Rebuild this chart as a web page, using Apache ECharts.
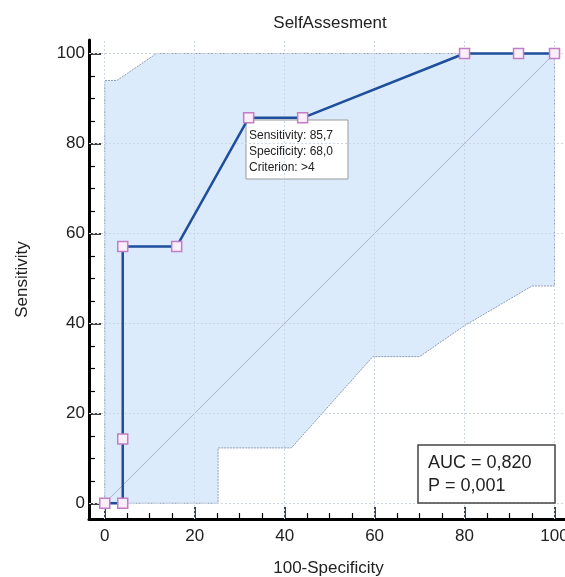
<!DOCTYPE html>
<html>
<head>
<meta charset="utf-8">
<script src="https://cdn.jsdelivr.net/npm/echarts@6/dist/echarts.min.js"></script>
<style>
html,body{margin:0;padding:0;background:#fff}
#roc{width:565px;height:577px}
</style>
</head>
<body>
<div id="roc"></div>
<script>
// ROC curve points (100-Specificity, Sensitivity)
var rocX = [0, 4, 4, 4, 16, 32, 44, 80, 92, 100];
var rocY = [0, 0, 14.3, 57.1, 57.1, 85.7, 85.7, 100, 100, 100];
// confidence band outline, upper edge then lower edge back to start
var bandX = [0, 0, 2.7, 11.5, 100, 100, 95, 80, 70, 59.6, 41.5, 25.2, 25.2];
var bandY = [0, 94, 94, 100, 100, 48.3, 48.3, 39.5, 32.6, 32.6, 12.3, 12.3, 0];
// reference diagonal
var diagX = [0, 100];
var diagY = [0, 100];
var majorTicks = [0, 20, 40, 60, 80, 100];
var minorTicks = [5, 10, 15, 25, 30, 35, 45, 50, 55, 65, 70, 75, 85, 90, 95];

var FONT = "'Liberation Sans', Arial, sans-serif";
var myChart = echarts.init(document.getElementById('roc'));

function mainAxis(name, gap, margin){
	return {
		type: 'value',
		min: -3.5,
		max: 103,
		name: name,
		nameLocation: 'middle',
		nameGap: gap,
		nameTextStyle: {fontFamily: FONT, fontSize: 17, color: '#222'},
		axisLine: {show: true, onZero: false, lineStyle: {color: '#000', width: 3}},
		axisTick: {show: true, inside: true, length: 12, customValues: majorTicks,
			lineStyle: {color: '#000', width: 1.5}},
		axisLabel: {customValues: majorTicks, margin: margin, fontFamily: FONT, fontSize: 17, color: '#222'},
		splitLine: {show: false}
	};
}
function minorAxis(){
	return {
		type: 'value',
		min: -3.5,
		max: 103,
		axisLine: {show: false, onZero: false},
		axisTick: {show: true, inside: true, length: 6, customValues: minorTicks,
			lineStyle: {color: '#000', width: 1.2}},
		axisLabel: {show: false},
		splitLine: {show: false}
	};
}

var xMain = mainAxis('100-Specificity', 41, 9); xMain.position = 'bottom';
var xMinor = minorAxis(); xMinor.position = 'bottom';
var yMain = mainAxis('Sensitivity', 58, 4); yMain.position = 'left';
var yMinor = minorAxis(); yMinor.position = 'left';

var gridLines = majorTicks.map(function(v){ return {xAxis: v}; })
	.concat(majorTicks.map(function(v){ return {yAxis: v}; }));

var option = {
	animation: false,
	grid: {left: 89, right: -3, top: 40, bottom: 58, containLabel: false, outerBoundsMode: 'none'},
	xAxis: [xMain, xMinor],
	yAxis: [yMain, yMinor],
	series: [
		{
			type: 'custom',
			z: 1,
			silent: true,
			data: [[0, 0]],
			renderItem: function(params, api){
				var pts = bandX.map(function(x, i){ return api.coord([x, bandY[i]]); });
				return {
					type: 'polygon',
					shape: {points: pts},
					style: {fill: '#dcebfb', stroke: '#8c9db6', lineWidth: 1, lineDash: [2, 1]}
				};
			}
		},
		{
			type: 'line',
			z: 2,
			silent: true,
			symbol: 'none',
			data: diagX.map(function(x, i){ return [x, diagY[i]]; }),
			lineStyle: {color: '#aab7cc', width: 1},
			markLine: {
				silent: true,
				symbol: 'none',
				label: {show: false},
				lineStyle: {color: '#cdd6e3', type: [2, 2], width: 1},
				data: gridLines
			}
		},
		{
			type: 'line',
			z: 5,
			symbol: 'rect',
			symbolSize: 10,
			showAllSymbol: true,
			data: rocX.map(function(x, i){ return [x, rocY[i]]; }),
			lineStyle: {color: '#1e4f9c', width: 2.5},
			itemStyle: {color: '#f9eef9', borderColor: '#c27ec4', borderWidth: 1.5}
		}
	],
	graphic: [
		{
			type: 'text', z: 100, x: 330, y: 23,
			style: {text: 'SelfAssesment', fontFamily: FONT, fontSize: 17, fill: '#222',
				textAlign: 'center', textVerticalAlign: 'middle'}
		},
		{
			type: 'rect', z: 3, shape: {x: 246, y: 120, width: 102, height: 59},
			style: {fill: '#fff', stroke: '#9a9a9a', lineWidth: 1}
		},
		{
			type: 'text', z: 4, x: 249, y: 128,
			style: {text: 'Sensitivity: 85,7\nSpecificity: 68,0\nCriterion: >4',
				fontFamily: FONT, fontSize: 12, lineHeight: 16, fill: '#222'}
		},
		{
			type: 'rect', z: 100, shape: {x: 418, y: 445, width: 137, height: 58},
			style: {fill: '#fff', stroke: '#444', lineWidth: 1.5}
		},
		{
			type: 'text', z: 101, x: 428, y: 452,
			style: {text: 'AUC = 0,820\nP = 0,001',
				fontFamily: FONT, fontSize: 18, lineHeight: 23, fill: '#222'}
		}
	]
};
myChart.setOption(option);
</script>
</body>
</html>
